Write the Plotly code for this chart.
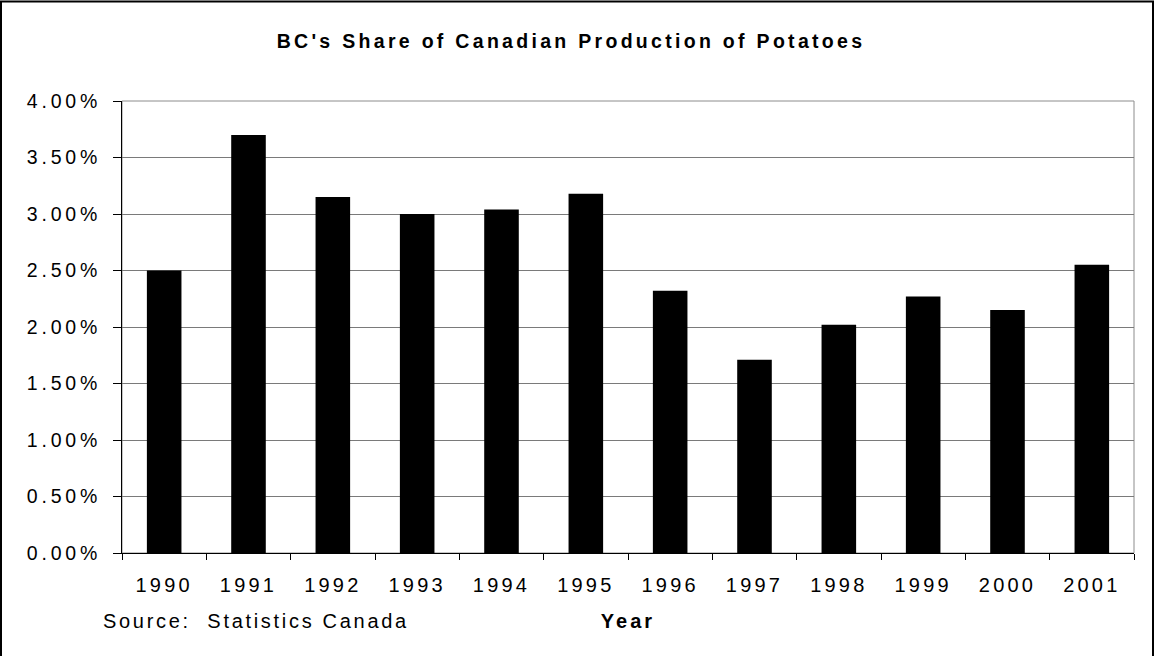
import plotly.graph_objects as go

# ---- data ----
years = ["1990", "1991", "1992", "1993", "1994", "1995",
         "1996", "1997", "1998", "1999", "2000", "2001"]
bc_share_pct = [2.50, 3.70, 3.15, 3.00, 3.04, 3.18,
                2.32, 1.71, 2.02, 2.27, 2.15, 2.55]
y_tick_values = [0.0, 0.5, 1.0, 1.5, 2.0, 2.5, 3.0, 3.5, 4.0]
y_tick_labels = ["0.00%", "0.50%", "1.00%", "1.50%", "2.00%",
                 "2.50%", "3.00%", "3.50%", "4.00%"]
title_text = "BC's Share of Canadian Production of Potatoes"
x_title_text = "Year"
source_text = "Source:\u00a0 Statistics Canada"

FONT = "Liberation Sans, Arial, Helvetica, sans-serif"


def spaced(s, px):
    return f'<span style="letter-spacing:{px}px">{s}</span>'


W, H = 1155, 656
L, R, T, B = 122, 21, 101, 103
PW, PH = W - L - R, H - T - B

fig = go.Figure()
fig.add_trace(go.Bar(
    x=years, y=bc_share_pct, width=0.41,
    marker=dict(color="black", line=dict(width=0)),
    showlegend=False,
))


def px_x(p):
    return (p - L) / PW


def px_y(p):
    return (H - B - p) / PH


fig.update_layout(
    width=W, height=H,
    margin=dict(l=L, r=R, t=T, b=B),
    paper_bgcolor="white", plot_bgcolor="white",
    font=dict(family=FONT, size=20, color="black"),
    title=dict(text=spaced(title_text, 3.3), xref="container", yref="container",
               x=571 / W, y=1 - 41.5 / H, xanchor="center", yanchor="middle",
               font=dict(family=FONT, size=19.5, color="black", weight="bold")),
    xaxis=dict(
        type="category", showgrid=False, showline=True, linecolor="black",
        linewidth=1, ticks="outside", ticklen=6, tickcolor="black",
        tickson="boundaries", tickfont=dict(size=20),
        tickmode="array", tickvals=years,
        ticktext=[spaced(y, 3.2) for y in years],
        ticklabelstandoff=14,
        title=dict(text=spaced(x_title_text, 3), standoff=18,
                   font=dict(size=20, weight="bold")),
        automargin=False,
    ),
    yaxis=dict(
        range=[0, 4.0], showgrid=True, gridcolor="#7a7a7a", gridwidth=1,
        showline=True, linecolor="black", linewidth=1, zeroline=False,
        ticks="outside", ticklen=8, tickcolor="black",
        tickmode="array", tickvals=y_tick_values,
        ticktext=[spaced(t, 3.8) for t in y_tick_labels],
        tickfont=dict(size=19.5), ticklabelstandoff=8,
        automargin=False,
    ),
    shapes=[
        dict(type="rect", xref="x domain", yref="y domain", x0=0, x1=1, y0=0, y1=1,
             line=dict(color="#8c8c8c", width=1), layer="below"),
        dict(type="rect", xref="paper", yref="paper",
             x0=px_x(1), x1=px_x(1153), y0=px_y(1.5), y1=px_y(660),
             line=dict(color="black", width=2)),
    ],
    annotations=[
        dict(text=spaced(source_text, 2.7), xref="paper", yref="paper",
             x=px_x(101), y=px_y(621), xanchor="left", yanchor="middle",
             showarrow=False, font=dict(size=20)),
    ],
)

fig.write_html("out.html", config={"displayModeBar": False},
               post_script="document.body.style.margin='0';")
